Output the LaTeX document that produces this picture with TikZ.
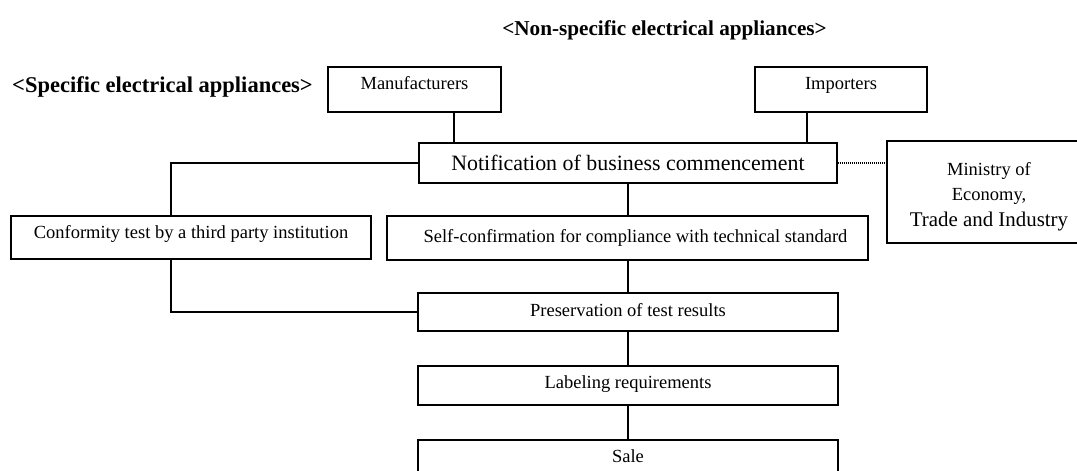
\documentclass[tikz,border=0pt]{standalone}
\usepackage{fontspec}
\setmainfont{Liberation Serif}
\begin{document}
\begin{tikzpicture}[x=1pt,y=-1pt,
  box/.style={draw,line width=1.3pt,rectangle,inner sep=0pt,align=center},
  small/.style={font=\fontsize{18.5}{22}\selectfont},
  big/.style={font=\fontsize{21.9}{26}\selectfont},
  title/.style={inner sep=0pt,font=\bfseries\fontsize{#1}{26}\selectfont},
  conn/.style={line width=1.3pt},
  dots/.style={line width=1.1pt,dash pattern=on 1pt off 1pt}]
\useasboundingbox (0,0) rectangle (1077,471);

\node[title=22.5,anchor=base west] (t1) at (12,92.5) {<Specific electrical appliances>};
\node[title=21.2,anchor=base] (t2) at (664.5,35) {<Non-specific electrical appliances>};

\node[box,small,minimum width=173pt,minimum height=45pt,text height=10.1pt,text depth=9.9pt] (manu) at (414.5,89.5) {Manufacturers};
\node[box,small,minimum width=172pt,minimum height=45pt,text height=10.1pt,text depth=9.9pt] (imp) at (841,89.5) {Importers};
\node[box,big,minimum width=418pt,minimum height=40pt,text height=17.1pt,text depth=2.9pt] (notif) at (628,163) {Notification of business commencement};
\node[box,font=\fontsize{18.5}{25.8}\selectfont,minimum width=204pt,minimum height=102pt,text height=70pt,text depth=0.6pt] (min) at (989,192) {Ministry of\\Economy,\\{\fontsize{20.9}{25.8}\selectfont Trade and Industry}};
\node[box,small,minimum width=360pt,minimum height=43pt,text height=10.6pt,text depth=9.4pt] (conf) at (191,237.5) {Conformity test by a third party institution};
\node[box,small,minimum width=481pt,minimum height=44pt,text height=14.1pt,text depth=5.9pt] (self) at (627.5,238) {\hspace*{16pt}Self-confirmation for compliance with technical standard};
\node[box,small,minimum width=420pt,minimum height=38pt,text height=14.1pt,text depth=5.9pt] (pres) at (628,312) {Preservation of test results};
\node[box,small,minimum width=420pt,minimum height=39pt,text height=12.6pt,text depth=7.4pt] (lab) at (628,385.5) {Labeling requirements};
\node[box,small,minimum width=420pt,minimum height=34pt,text height=15.1pt,text depth=4.9pt] (sale) at (628,457) {Sale};

\coordinate (m1) at ([xshift=39.5pt]manu.south);
\draw[conn] (m1) -- (m1 |- notif.north);
\coordinate (i1) at ([xshift=-34pt]imp.south);
\draw[conn] (i1) -- (i1 |- notif.north);
\coordinate (c1) at ([xshift=-20pt]conf.north);
\draw[conn] (notif.west) -| (c1);
\coordinate (c2) at ([xshift=-20pt]conf.south);
\draw[conn] (c2) |- (pres.west);
\draw[conn] (notif.south) -- (notif.south |- self.north);
\draw[conn] (pres.north |- self.south) -- (pres.north);
\draw[conn] (pres.south) -- (lab.north);
\draw[conn] (lab.south) -- (sale.north);
\draw[dots] (notif.east) -- (notif.east -| min.west);
\end{tikzpicture}
\end{document}
